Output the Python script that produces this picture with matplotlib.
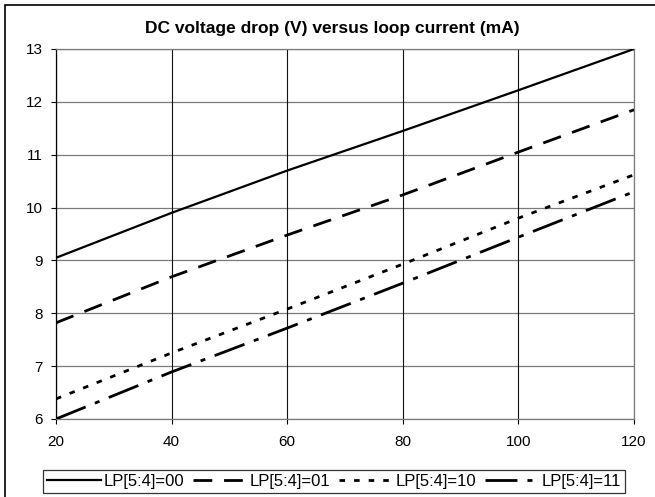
import matplotlib
matplotlib.use("Agg")
import matplotlib.pyplot as plt
from matplotlib.patches import Rectangle

plt.rcParams['font.family'] = ['Liberation Sans', 'DejaVu Sans']
plt.rcParams['lines.scale_dashes'] = False

current = [20, 40, 60, 80, 100, 120]
lp00 = [9.05, 9.90, 10.70, 11.45, 12.22, 13.00]
lp01 = [7.82, 8.69, 9.48, 10.24, 11.05, 11.85]
lp10 = [6.38, 7.25, 8.08, 8.93, 9.80, 10.62]
lp11 = [6.00, 6.89, 7.72, 8.57, 9.44, 10.30]
labels = ["LP[5:4]=00", "LP[5:4]=01", "LP[5:4]=10", "LP[5:4]=11"]
title = "DC voltage drop (V) versus loop current (mA)"
xticks = [20, 40, 60, 80, 100, 120]
yticks = [6, 7, 8, 9, 10, 11, 12, 13]

fig = plt.figure(figsize=(6.55, 4.97), dpi=100)
ax = fig.add_axes([56/655, 1-419/497, (634-56)/655, (419-49)/497])

for y in yticks:
    ax.axhline(y, color='#7a7a7a', lw=0.9, zorder=1)
for x in xticks:
    ax.axvline(x, color='#111111', lw=0.8, zorder=1)

ax.plot(current, lp00, color='black', lw=1.6, ls='-', label=labels[0], zorder=3)
ax.plot(current, lp01, color='black', lw=2.0, dashes=(13.5, 8.5), label=labels[1], zorder=3)
ax.plot(current, lp10, color='black', lw=2.0, dashes=(4.0, 6.5), label=labels[2], zorder=3)
ax.plot(current, lp11, color='black', lw=2.0, dashes=(23, 7.2, 3.6, 7.2), label=labels[3], zorder=3)

ax.set_xlim(20, 120)
ax.set_ylim(6, 13)
ax.set_xticks(xticks)
ax.set_yticks(yticks)
ax.tick_params(axis='both', direction='out', length=3.6, width=0.8, labelsize=11, colors='black')
ax.tick_params(axis='y', pad=6)
ax.tick_params(axis='x', pad=8)
for s in ['top', 'right', 'bottom']:
    ax.spines[s].set_color('#7a7a7a')
    ax.spines[s].set_linewidth(0.9)
ax.spines['left'].set_color('black')
ax.spines['left'].set_linewidth(0.9)

fig.text(332/655, 1-29/497, title, ha='center', va='center', fontsize=12.5, fontweight='bold')

leg = fig.legend(loc='lower left', bbox_to_anchor=(43/655, 4/497),
                 ncol=4, fontsize=12, frameon=True, fancybox=False,
                 handlelength=3.25, handletextpad=0.12, borderpad=0.25, borderaxespad=0,
                 columnspacing=0.55)
leg.get_frame().set_edgecolor('black')
leg.get_frame().set_linewidth(0.9)

fig.patches.append(Rectangle((5/655, -0.1), 1.2, 1-5/497+0.1, transform=fig.transFigure,
                             fill=False, edgecolor='black', lw=1.2, zorder=0))

fig.savefig('out.png', dpi=100)
